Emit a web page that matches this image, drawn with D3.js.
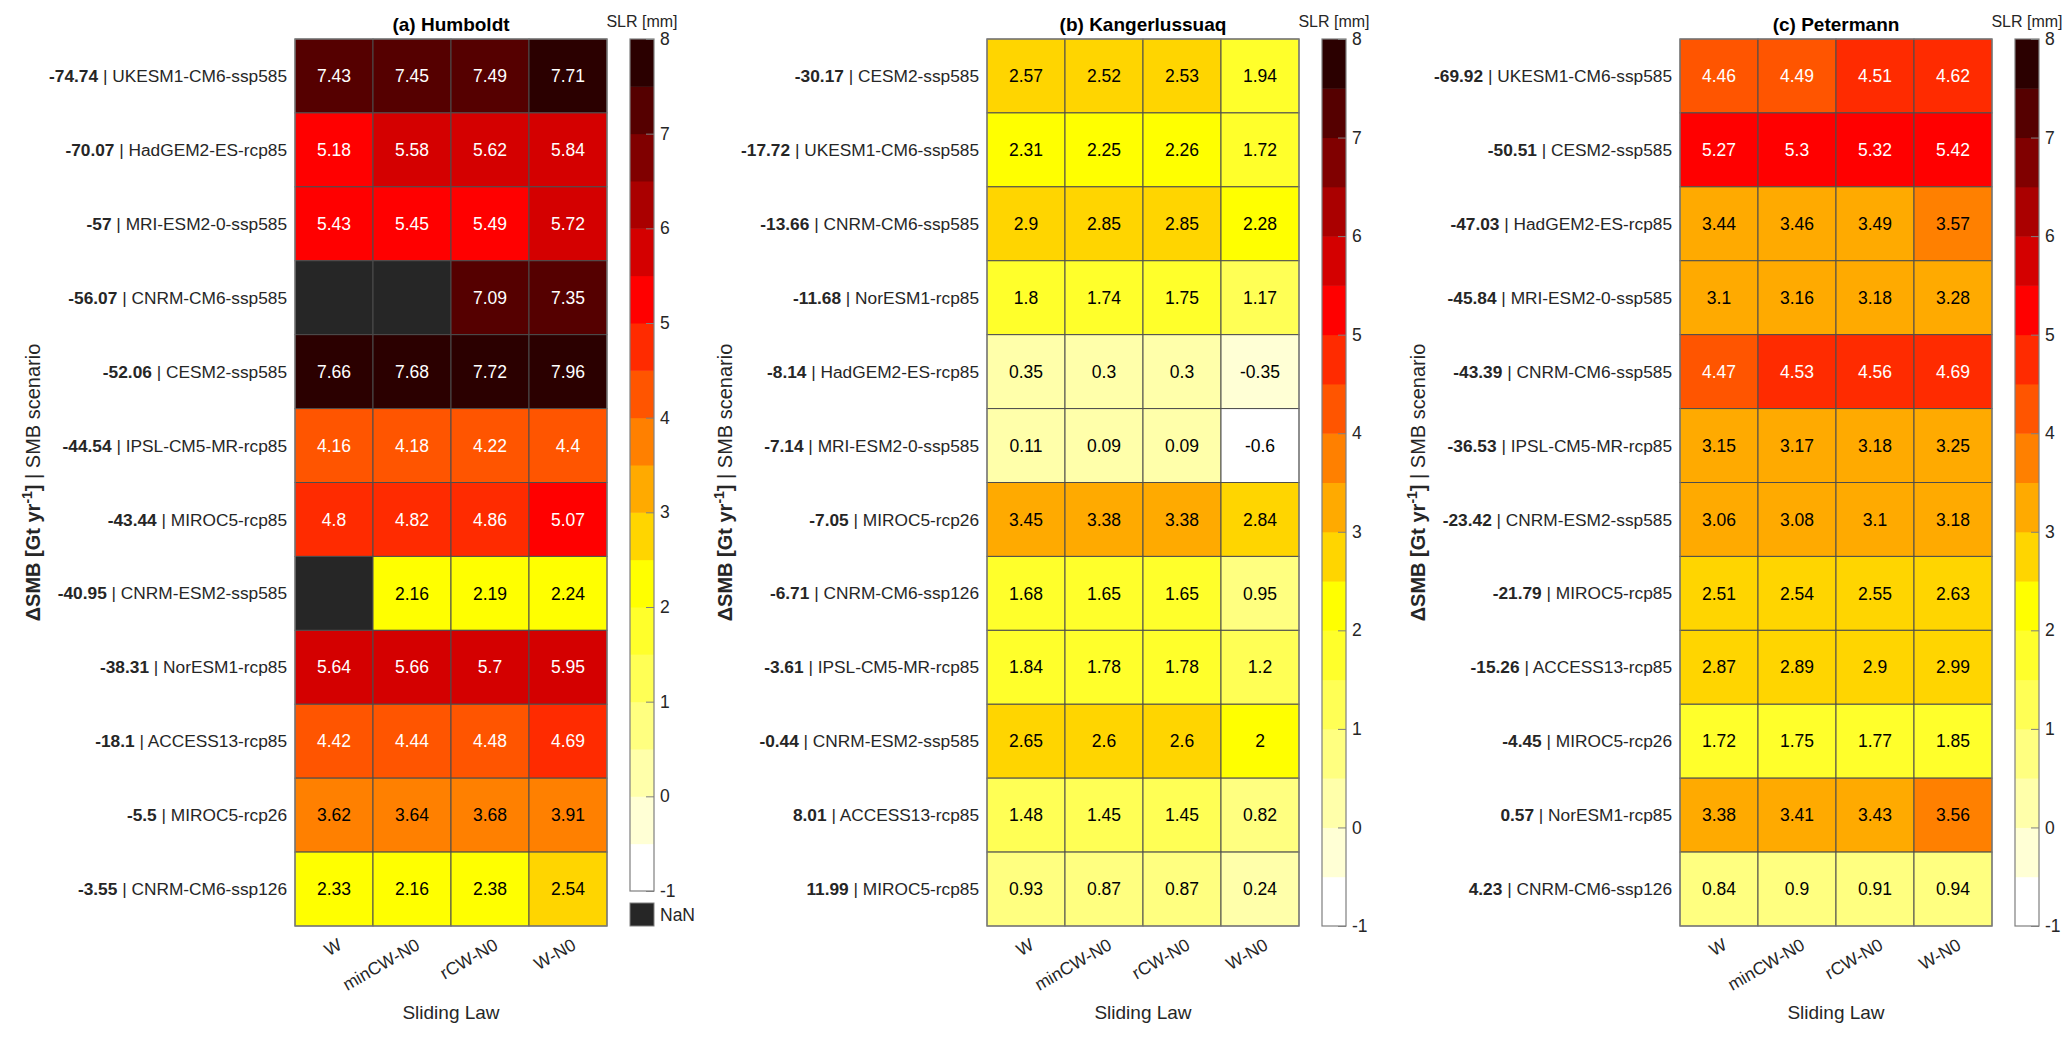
<!DOCTYPE html>
<html>
<head>
<meta charset="utf-8">
<script src="https://cdn.jsdelivr.net/npm/d3@7"></script>
<style>
  body { margin: 0; background: #fff; }
  text { font-family: "Liberation Sans", Arial, sans-serif; fill: #262626; }
</style>
</head>
<body>
<svg id="chart" width="2067" height="1039"></svg>
<script>
// sliding laws (columns, same for every glacier)
const slidingLaws = ["W", "minCW-N0", "rCW-N0", "W-N0"];

// (a) Humboldt
const humboldtSmb = ["-74.74", "-70.07", "-57", "-56.07", "-52.06", "-44.54", "-43.44", "-40.95", "-38.31", "-18.1", "-5.5", "-3.55"];
const humboldtScen = ["UKESM1-CM6-ssp585", "HadGEM2-ES-rcp85", "MRI-ESM2-0-ssp585", "CNRM-CM6-ssp585", "CESM2-ssp585",
  "IPSL-CM5-MR-rcp85", "MIROC5-rcp85", "CNRM-ESM2-ssp585", "NorESM1-rcp85", "ACCESS13-rcp85", "MIROC5-rcp26", "CNRM-CM6-ssp126"];
const humboldtSlr = [
  [7.43, 7.45, 7.49, 7.71],
  [5.18, 5.58, 5.62, 5.84],
  [5.43, 5.45, 5.49, 5.72],
  [NaN, NaN, 7.09, 7.35],
  [7.66, 7.68, 7.72, 7.96],
  [4.16, 4.18, 4.22, 4.4],
  [4.8, 4.82, 4.86, 5.07],
  [NaN, 2.16, 2.19, 2.24],
  [5.64, 5.66, 5.7, 5.95],
  [4.42, 4.44, 4.48, 4.69],
  [3.62, 3.64, 3.68, 3.91],
  [2.33, 2.16, 2.38, 2.54]
];

// (b) Kangerlussuaq
const kangerSmb = ["-30.17", "-17.72", "-13.66", "-11.68", "-8.14", "-7.14", "-7.05", "-6.71", "-3.61", "-0.44", "8.01", "11.99"];
const kangerScen = ["CESM2-ssp585", "UKESM1-CM6-ssp585", "CNRM-CM6-ssp585", "NorESM1-rcp85", "HadGEM2-ES-rcp85",
  "MRI-ESM2-0-ssp585", "MIROC5-rcp26", "CNRM-CM6-ssp126", "IPSL-CM5-MR-rcp85", "CNRM-ESM2-ssp585", "ACCESS13-rcp85", "MIROC5-rcp85"];
const kangerSlr = [
  [2.57, 2.52, 2.53, 1.94],
  [2.31, 2.25, 2.26, 1.72],
  [2.9, 2.85, 2.85, 2.28],
  [1.8, 1.74, 1.75, 1.17],
  [0.35, 0.3, 0.3, -0.35],
  [0.11, 0.09, 0.09, -0.6],
  [3.45, 3.38, 3.38, 2.84],
  [1.68, 1.65, 1.65, 0.95],
  [1.84, 1.78, 1.78, 1.2],
  [2.65, 2.6, 2.6, 2],
  [1.48, 1.45, 1.45, 0.82],
  [0.93, 0.87, 0.87, 0.24]
];

// (c) Petermann
const peterSmb = ["-69.92", "-50.51", "-47.03", "-45.84", "-43.39", "-36.53", "-23.42", "-21.79", "-15.26", "-4.45", "0.57", "4.23"];
const peterScen = ["UKESM1-CM6-ssp585", "CESM2-ssp585", "HadGEM2-ES-rcp85", "MRI-ESM2-0-ssp585", "CNRM-CM6-ssp585",
  "IPSL-CM5-MR-rcp85", "CNRM-ESM2-ssp585", "MIROC5-rcp85", "ACCESS13-rcp85", "MIROC5-rcp26", "NorESM1-rcp85", "CNRM-CM6-ssp126"];
const peterSlr = [
  [4.46, 4.49, 4.51, 4.62],
  [5.27, 5.3, 5.32, 5.42],
  [3.44, 3.46, 3.49, 3.57],
  [3.1, 3.16, 3.18, 3.28],
  [4.47, 4.53, 4.56, 4.69],
  [3.15, 3.17, 3.18, 3.25],
  [3.06, 3.08, 3.1, 3.18],
  [2.51, 2.54, 2.55, 2.63],
  [2.87, 2.89, 2.9, 2.99],
  [1.72, 1.75, 1.77, 1.85],
  [3.38, 3.41, 3.43, 3.56],
  [0.84, 0.9, 0.91, 0.94]
];

const cbTicks = [-1, 0, 1, 2, 3, 4, 5, 6, 7, 8];

// flipped "hot" colormap, 18 levels from -1 to 8
const hotColors = ["#ffffff", "#ffffd5", "#ffffaa", "#ffff80", "#ffff55", "#ffff2b", "#ffff00", "#ffd500", "#ffaa00",
  "#ff8000", "#ff5500", "#ff2b00", "#ff0000", "#d40000", "#aa0000", "#800000", "#550000", "#2b0000"];
const nanColor = "#262626";

const panels = [
  {title: "(a) Humboldt", smb: humboldtSmb, scen: humboldtScen, slr: humboldtSlr, left: 295, nan: true},
  {title: "(b) Kangerlussuaq", smb: kangerSmb, scen: kangerScen, slr: kangerSlr, left: 987, nan: false},
  {title: "(c) Petermann", smb: peterSmb, scen: peterScen, slr: peterSlr, left: 1680, nan: false}
];

const mapTop = 39, mapBottom = 926, mapW = 312;
const svg = d3.select("#chart");

const color = d3.scaleQuantize().domain([-1, 8]).range(hotColors);

function textColor(c) {
  const rgb = d3.rgb(c);
  const lum = (0.299 * rgb.r + 0.587 * rgb.g + 0.114 * rgb.b) / 255;
  return lum < 0.5 ? "#ffffff" : "#000000";
}

panels.forEach(p => {
  const g = svg.append("g").attr("transform", `translate(${p.left},${mapTop})`);
  const h = mapBottom - mapTop;
  const rows = d3.range(p.smb.length);

  const x = d3.scaleBand().domain(slidingLaws).range([0, mapW]);
  const y = d3.scaleBand().domain(rows).range([0, h]);

  const cells = [];
  p.slr.forEach((row, i) => row.forEach((v, j) => cells.push({i, j, v})));

  g.selectAll("rect.cell").data(cells).enter().append("rect")
    .attr("class", "cell")
    .attr("x", d => x(slidingLaws[d.j]))
    .attr("y", d => y(d.i))
    .attr("width", x.bandwidth())
    .attr("height", y.bandwidth())
    .attr("fill", d => isNaN(d.v) ? nanColor : color(d.v))
    .attr("stroke", "#4d4d4d")
    .attr("stroke-width", 1);

  g.selectAll("text.val").data(cells.filter(d => !isNaN(d.v))).enter().append("text")
    .attr("class", "val")
    .attr("x", d => x(slidingLaws[d.j]) + x.bandwidth() / 2)
    .attr("y", d => y(d.i) + y.bandwidth() / 2)
    .attr("text-anchor", "middle")
    .attr("dy", "0.35em")
    .attr("font-size", 17.5)
    .style("fill", d => textColor(color(d.v)))
    .text(d => d.v);

  // outer border
  g.append("rect").attr("width", mapW).attr("height", h)
    .attr("fill", "none").attr("stroke", "#7f7f7f").attr("stroke-width", 1.2);

  // row labels: bold SMB | scenario
  const lab = g.selectAll("text.rowlab").data(rows).enter().append("text")
    .attr("class", "rowlab")
    .attr("x", -8)
    .attr("y", d => y(d) + y.bandwidth() / 2)
    .attr("dy", "0.35em")
    .attr("text-anchor", "end")
    .attr("font-size", 17.3);
  lab.append("tspan").attr("font-weight", "bold").text(d => p.smb[d]);
  lab.append("tspan").text(d => " | " + p.scen[d]);

  // x axis with rotated labels
  const xa = g.append("g").attr("transform", `translate(0,${h})`)
    .call(d3.axisBottom(x).tickSize(0).tickPadding(0));
  xa.select(".domain").remove();
  xa.selectAll("text")
    .attr("font-size", 17.5)
    .attr("text-anchor", "end")
    .attr("dy", "0.35em")
    .attr("y", 0)
    .attr("transform", "translate(6,17) rotate(-30)")
    .style("fill", "#262626");

  g.append("text").attr("x", mapW / 2).attr("y", h + 93)
    .attr("text-anchor", "middle").attr("font-size", 19).text("Sliding Law");

  g.append("text").attr("x", mapW / 2).attr("y", -8)
    .attr("text-anchor", "middle").attr("font-size", 19).attr("font-weight", "bold")
    .style("fill", "#000").text(p.title);

  // y title
  const yt = g.append("text")
    .attr("transform", `translate(-255,${h / 2}) rotate(-90)`)
    .attr("text-anchor", "middle").attr("font-size", 20);
  yt.append("tspan").attr("font-weight", "bold").text("\u0394SMB [Gt yr");
  yt.append("tspan").attr("font-weight", "bold").attr("font-size", 14).attr("dy", -8).text("-1");
  yt.append("tspan").attr("font-weight", "bold").attr("dy", 8).text("]");
  yt.append("tspan").text(" | SMB scenario");

  // colorbar
  const cbX = mapW + 23, cbW = 24;
  const cbBottom = p.nan ? h - 35 : h;
  const cy = d3.scaleLinear().domain([-1, 8]).range([cbBottom, 0]);
  const cb = g.append("g").attr("transform", `translate(${cbX},0)`);
  cb.selectAll("rect.lvl").data(hotColors).enter().append("rect")
    .attr("class", "lvl")
    .attr("x", 0)
    .attr("y", (c, k) => cy(-1 + (k + 1) * 0.5))
    .attr("width", cbW)
    .attr("height", (c, k) => cy(-1 + k * 0.5) - cy(-1 + (k + 1) * 0.5) + 0.5)
    .attr("fill", c => c);
  const ax = cb.append("g").attr("transform", `translate(${cbW},0)`)
    .call(d3.axisRight(cy).tickValues(cbTicks).tickFormat(d => String(d))
      .tickSize(-8).tickPadding(6).tickSizeOuter(0));
  ax.select(".domain").remove();
  ax.selectAll("line").attr("stroke", "#7f7f7f");
  ax.selectAll("text").attr("font-size", 17.5).style("fill", "#262626");
  cb.append("rect").attr("width", cbW).attr("height", cbBottom)
    .attr("fill", "none").attr("stroke", "#7f7f7f").attr("stroke-width", 1.2);
  cb.append("text").attr("x", cbW / 2).attr("y", -12).attr("text-anchor", "middle")
    .attr("font-size", 16).text("SLR [mm]");

  if (p.nan) {
    cb.append("rect").attr("y", h - 23).attr("width", cbW).attr("height", 23)
      .attr("fill", nanColor).attr("stroke", "#7f7f7f");
    cb.append("text").attr("x", cbW + 6).attr("y", h - 11.5).attr("dy", "0.35em")
      .attr("font-size", 17.5).text("NaN");
  }
});
</script>
</body>
</html>
